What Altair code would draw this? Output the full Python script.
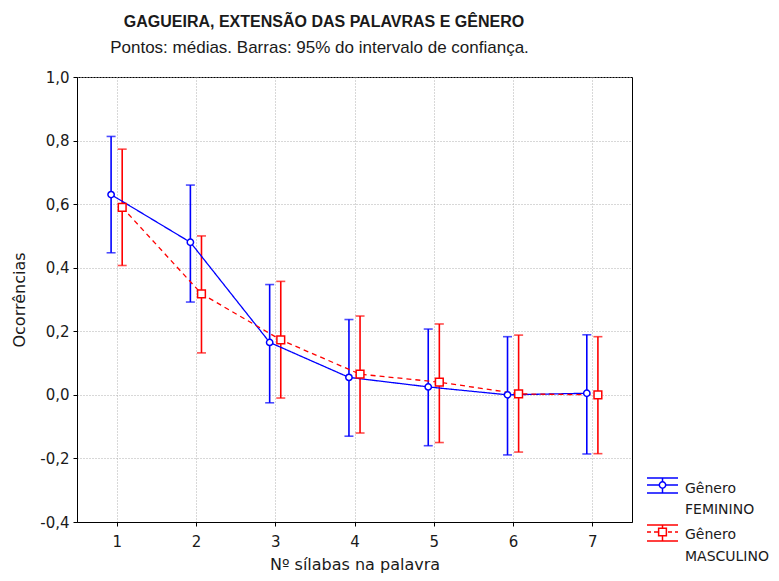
import altair as alt
import pandas as pd

# ---- data ----
syllables = [1, 2, 3, 4, 5, 6, 7]
groups = ["FEMININO", "MASCULINO"]

fem_mean = [0.630, 0.480, 0.165, 0.055, 0.025, 0.000, 0.005]
fem_low = [0.447, 0.292, -0.025, -0.130, -0.160, -0.189, -0.186]
fem_high = [0.813, 0.660, 0.347, 0.237, 0.207, 0.183, 0.189]

masc_mean = [0.590, 0.318, 0.173, 0.065, 0.040, 0.003, 0.000]
masc_low = [0.407, 0.132, -0.010, -0.120, -0.150, -0.180, -0.185]
masc_high = [0.773, 0.500, 0.357, 0.248, 0.223, 0.188, 0.183]

y_ticks = [-0.4, -0.2, 0.0, 0.2, 0.4, 0.6, 0.8, 1.0]
title_text = "GAGUEIRA, EXTENSÃO DAS PALAVRAS E GÊNERO"
subtitle_text = "Pontos: médias. Barras: 95% do intervalo de confiança."
x_title = "Nº sílabas na palavra"
y_title = "Ocorrências"
legend_line1 = ["Gênero", "Gênero"]
legend_line2 = ["FEMININO", "MASCULINO"]

colors = ["#0000FF", "#FF0000"]
shapes = ["circle", "square"]
dodge = [-0.07, 0.07]

rows = []
for g, mean, lo, hi, d in zip(groups, [fem_mean, masc_mean], [fem_low, masc_low],
                              [fem_high, masc_high], dodge):
    for s, m, a, b in zip(syllables, mean, lo, hi):
        rows.append({"syl": s, "grupo": g, "media": m, "inf": a, "sup": b, "dodge": d})
df = pd.DataFrame(rows)

AXIS_FONT = "DejaVu Sans"

x_enc = alt.X(
    "xp:Q",
    scale=alt.Scale(domain=[0.5, 7.5], nice=False, zero=False),
    axis=alt.Axis(
        values=syllables, title=x_title, format="d",
        titleY=47, titleBaseline="alphabetic",
    ),
)
y_axis = alt.Axis(
    values=y_ticks, title=y_title,
    labelExpr="replace(replace(format(datum.value, '.1f'), '.', ','), '\u2212', '-')",
    titleX=-58, titleBaseline="middle", titleAngle=-90,
)
y_scale = alt.Scale(domain=[-0.4, 1.0], nice=False, zero=False)

color_enc = alt.Color("grupo:N", scale=alt.Scale(domain=groups, range=colors), legend=None)

base = alt.Chart(df).transform_calculate(xp="datum.syl + datum.dodge")

lines = base.mark_line(strokeWidth=1.3).encode(
    x=x_enc,
    y=alt.Y("media:Q", scale=y_scale, axis=y_axis),
    color=color_enc,
    strokeDash=alt.StrokeDash("grupo:N", scale=alt.Scale(domain=groups, range=[[1, 0], [5, 4]]), legend=None),
)

bars = base.mark_rule(strokeWidth=1.6).encode(
    x=x_enc,
    y=alt.Y("inf:Q", scale=y_scale, axis=y_axis),
    y2="sup:Q",
    color=color_enc,
)

cap_low = base.mark_tick(orient="horizontal", size=9, thickness=1.6).encode(
    x=x_enc, y=alt.Y("inf:Q", scale=y_scale, axis=y_axis), color=color_enc,
)
cap_high = base.mark_tick(orient="horizontal", size=9, thickness=1.6).encode(
    x=x_enc, y=alt.Y("sup:Q", scale=y_scale, axis=y_axis), color=color_enc,
)

points = base.mark_point(fill="white", fillOpacity=1, strokeWidth=1.5, opacity=1).encode(
    x=x_enc,
    y=alt.Y("media:Q", scale=y_scale, axis=y_axis),
    color=color_enc,
    shape=alt.Shape("grupo:N", scale=alt.Scale(domain=groups, range=shapes), legend=None),
    size=alt.Size("grupo:N", scale=alt.Scale(domain=groups, range=[40, 60]), legend=None),
)

# ---- titles as text ----
one = pd.DataFrame({"t": [title_text]})
title = alt.Chart(one).mark_text(
    font="Liberation Sans", fontWeight="bold", fontSize=16, align="center",
    baseline="alphabetic", color="#1a1a1a",
).encode(text="t:N", x=alt.value(247), y=alt.value(-50))

one_s = pd.DataFrame({"t": [subtitle_text]})
subtitle = alt.Chart(one_s).mark_text(
    font="Liberation Sans", fontSize=17, align="center",
    baseline="alphabetic", color="#1a1a1a",
).encode(text="t:N", x=alt.value(242.5), y=alt.value(-24))

# ---- legend drawn manually ----
leg_layers = []
icon_top = [401, 448]
icon_mid = [408, 455]
icon_bot = [416, 464]
text1_y = [416, 462]
text2_y = [437, 484]
dashes = [[1, 0], [4, 3]]
for i in range(2):
    dfl = pd.DataFrame({"g": [groups[i]], "l1": [legend_line1[i]], "l2": [legend_line2[i]]})
    c = alt.Chart(dfl)
    leg_layers.append(c.mark_rule(color=colors[i], strokeWidth=1.5).encode(
        x=alt.value(570), x2=alt.value(601), y=alt.value(icon_top[i])))
    leg_layers.append(c.mark_rule(color=colors[i], strokeWidth=1.5).encode(
        x=alt.value(570), x2=alt.value(601), y=alt.value(icon_bot[i])))
    leg_layers.append(c.mark_rule(color=colors[i], strokeWidth=1.3, strokeDash=dashes[i]).encode(
        x=alt.value(570), x2=alt.value(601), y=alt.value(icon_mid[i])))
    leg_layers.append(c.mark_rule(color=colors[i], strokeWidth=1.5).encode(
        x=alt.value(585.5), y=alt.value(icon_top[i]), y2=alt.value(icon_bot[i])))
    leg_layers.append(c.mark_point(shape=shapes[i], color=colors[i], fill="white", fillOpacity=1,
                                   strokeWidth=1.5, opacity=1, size=[40, 60][i]).encode(
        x=alt.value(585.5), y=alt.value(icon_mid[i])))
    leg_layers.append(c.mark_text(font=AXIS_FONT, fontSize=14, align="left", baseline="alphabetic",
                                  color="#1a1a1a").encode(
        text="l1:N", x=alt.value(608), y=alt.value(text1_y[i])))
    leg_layers.append(c.mark_text(font=AXIS_FONT, fontSize=14, align="left", baseline="alphabetic",
                                  color="#1a1a1a").encode(
        text="l2:N", x=alt.value(608), y=alt.value(text2_y[i])))

chart = alt.layer(bars, cap_low, cap_high, lines, points, title, subtitle, *leg_layers).properties(
    width=555,
    height=445,
    autosize=alt.AutoSizeParams(type="none"),
    padding={"left": 69, "top": 69, "right": 139, "bottom": 51},
).configure_view(
    stroke="black", strokeWidth=1,
).configure_axis(
    labelFont=AXIS_FONT, labelFontSize=15, labelColor="#1a1a1a",
    titleFont=AXIS_FONT, titleFontSize=16, titleColor="#1a1a1a", titleFontWeight="normal",
    domainColor="black", domainWidth=1,
    tickColor="black", tickSize=4, tickWidth=1,
    labelPadding=4,
    gridColor="#b0b0b0", gridDash=[1, 2], gridWidth=1,
).configure_axisX(labelPadding=8)

chart.save("out.html", embed_options={"renderer": "svg", "actions": False})
